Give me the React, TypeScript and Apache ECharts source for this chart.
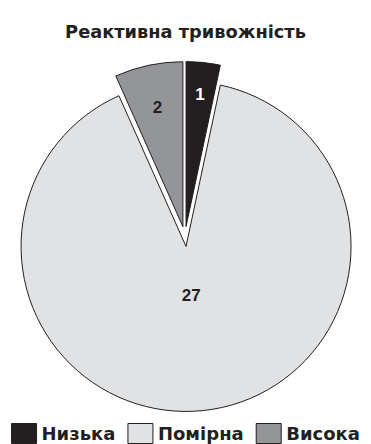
import React, { useEffect, useRef } from "react";
import * as echarts from "echarts";

const titleText = "Реактивна тривожність";
const categories = ["Низька", "Помірна", "Висока"];
const values = [1, 27, 2];
const colors = ["#231f20", "#e1e2e3", "#939598"];
const labelColors = ["#ffffff", "#231f20", "#231f20"];
// label radius (inner, outer) per slice so the number sits where the reference puts it
const labelRadii: [number, number][] = [
  [100, 160],
  [0, 92],
  [89, 149],
];

const FONT = "'Liberation Sans', Arial, sans-serif";
const WIDE_FONT = "'DejaVu Sans', 'Liberation Sans', sans-serif";
const CENTER = [185, 236.5];
const R = 165;
const OFFSET = 10;

export default function App() {
  const ref = useRef<HTMLDivElement>(null);
  useEffect(() => {
    if (!ref.current) return;
    const chart = echarts.init(ref.current, null, { renderer: "svg" });

    const mainData = categories.map((name, i) => ({
      name,
      value: values[i],
      selected: true,
      itemStyle: { color: colors[i] },
    }));

    const labelSeries = categories.map((_, idx) => ({
      type: "pie",
      silent: true,
      animation: false,
      center: CENTER,
      radius: labelRadii[idx],
      startAngle: 90,
      clockwise: true,
      selectedMode: "multiple",
      selectedOffset: OFFSET,
      z: 5,
      itemStyle: { color: "rgba(0,0,0,0)", borderWidth: 0 },
      select: { itemStyle: { color: "rgba(0,0,0,0)", borderWidth: 0 } },
      emphasis: { disabled: true },
      labelLine: { show: false },
      data: categories.map((name, i) => ({
        name,
        value: values[i],
        selected: true,
        itemStyle: { color: "rgba(0,0,0,0)" },
        label: {
          show: i === idx,
          position: "inside",
          formatter: "{c}",
          color: labelColors[i],
          fontFamily: FONT,
          fontWeight: "bold",
          fontSize: 17,
        },
      })),
    }));

    chart.setOption({
      animation: false,
      title: {
        text: titleText,
        left: "center",
        top: 17,
        textStyle: {
          fontFamily: WIDE_FONT,
          fontWeight: "bold",
          fontSize: 17.8,
          color: "#231f20",
        },
      },
      legend: {
        data: categories,
        left: "center",
        top: 418,
        itemWidth: 25,
        itemHeight: 20,
        itemGap: 12,
        icon: "rect",
        selectedMode: false,
        itemStyle: { borderColor: "#231f20", borderWidth: 1 },
        textStyle: {
          fontFamily: WIDE_FONT,
          fontWeight: "bold",
          fontSize: 18,
          color: "#231f20",
        },
      },
      series: [
        {
          type: "pie",
          center: CENTER,
          radius: [0, R],
          startAngle: 90,
          clockwise: true,
          selectedMode: "multiple",
          selectedOffset: OFFSET,
          itemStyle: { borderColor: "#231f20", borderWidth: 1 },
          select: { itemStyle: { borderColor: "#231f20", borderWidth: 1 } },
          emphasis: { disabled: true },
          label: { show: false },
          labelLine: { show: false },
          data: mainData,
        },
        ...labelSeries,
      ],
    });
    return () => chart.dispose();
  }, []);

  return (
    <div
      ref={ref}
      style={{ position: "fixed", left: 0, top: 0, width: 371, height: 444, background: "#ffffff" }}
    />
  );
}
